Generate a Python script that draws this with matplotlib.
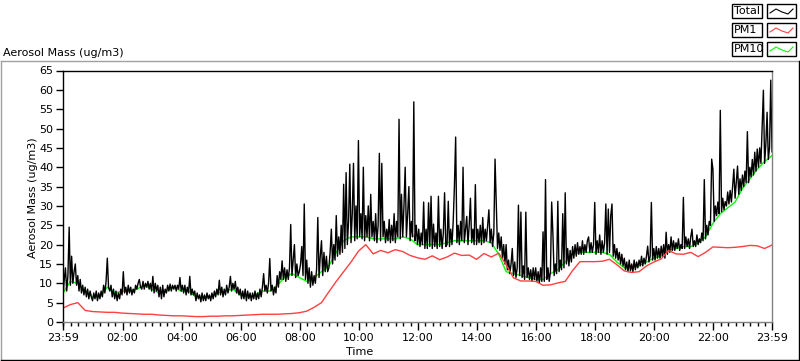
import numpy as np
import matplotlib
matplotlib.use('Agg')
import matplotlib.pyplot as plt
from matplotlib.lines import Line2D
from matplotlib.patches import Rectangle

# Total mass, 2.5 minute samples (one row per hour), hours counted from 23:59
total = [
    6.5, 11, 14, 8, 12, 24.5, 9.5, 17, 10, 13, 15, 9.5, 12, 8, 11, 7.5, 9.5, 7, 9, 6.5, 8.5, 6, 8, 6.5,
    5.5, 7.5, 6, 8, 5.5, 7.5, 6, 8, 6.5, 9.5, 7.5, 10.5, 16.5, 9, 8, 9.5, 6.5, 8.5, 6, 8, 5.5, 7.5, 6, 8.5,
    7, 13, 7.5, 9, 7, 9.5, 7.5, 9, 7, 8.5, 7.5, 9.5, 8.5, 10, 11, 9, 8.5, 10.5, 8.5, 10, 9, 10.5, 8.5, 10,
    8, 11.8, 7.5, 10, 8, 9.5, 6.5, 9, 6, 9.5, 6.5, 8.5, 7.5, 9.5, 8, 9.8, 8, 9.5, 8.5, 9.5, 8, 9.5, 8.5, 11.5,
    8, 9.5, 7.5, 9.5, 7, 9, 7.5, 11.8, 7, 8.5, 7, 8, 5.5, 7.5, 6, 7, 5.2, 7.5, 5.5, 7, 5.5, 7.5, 6, 7,
    5.5, 7.5, 6, 8, 6.5, 8.5, 7, 10.8, 7, 9, 6.5, 8.5, 7, 9.5, 7.5, 9, 11.8, 8, 10, 8.5, 10.5, 7.5, 9, 7,
    8.5, 6, 8, 6, 8.5, 5.5, 8, 6, 7.5, 5.5, 7.5, 6, 8, 5.8, 7.5, 6, 8.5, 6.5, 9, 12.5, 8, 9.5, 7.5, 10,
    16.4, 8, 9.5, 7, 9, 7.5, 12, 9, 13, 11, 15.8, 11, 14, 10.5, 13.5, 11, 14, 25.2, 12, 16, 20, 11.5, 15, 12,
    13, 15, 19.5, 12, 30.5, 11, 16, 10, 14, 9, 13, 9.5, 12, 10, 13.5, 27, 11.5, 17, 21, 12, 18, 13, 17, 13,
    14, 18, 24, 15, 20, 16, 27.5, 17, 22, 17.5, 25, 18, 35.6, 19, 38.6, 20, 26, 40.8, 20.5, 28, 41, 21, 30, 21.5,
    46.9, 22, 28, 21.5, 40, 21, 27.5, 22, 30, 21, 33, 22, 26, 21, 28, 20.5, 25, 43.6, 21, 41, 22, 26, 20.5, 24,
    21, 26.5, 20.5, 25, 21, 28, 20.5, 26, 22, 52.4, 21.5, 33, 22, 30, 40, 22, 28, 35, 21, 26, 22, 56.9, 21, 25,
    20, 24, 19.5, 23, 20, 31, 19, 24, 19, 30.8, 19.5, 32.5, 19, 25.3, 19.5, 23, 19, 32.5, 19.5, 24, 19, 23, 33.4, 19.5,
    20, 31.2, 19.5, 24, 20, 26, 35.2, 47.8, 20.5, 25, 20, 26, 21, 40, 20.5, 24, 27.3, 20, 25, 32, 20.5, 24, 20, 35.5,
    20, 24, 20.5, 25, 20, 27, 20.5, 24, 21, 25, 29, 20.5, 24, 19.5, 23, 42.1, 30.9, 19, 23, 18.5, 22, 16.5, 20, 15,
    20, 13.5, 16, 12.5, 15, 19, 12, 15.5, 11.5, 14, 30.2, 12, 28.4, 11.5, 14.5, 11, 28.4, 11.5, 14, 11, 13.5, 10.5, 14, 11,
    14, 10.5, 13, 10, 14, 10.5, 23.3, 10.5, 36.8, 11, 14, 10.5, 13, 31, 22.8, 12, 15, 12.5, 31.2, 13, 16, 13.5, 28, 14,
    33.4, 15, 19, 14.5, 18.5, 15.5, 19.5, 16.5, 20, 17, 20.5, 17.5, 19.5, 17.5, 21, 17.5, 20, 18, 21, 22, 18, 20.5, 18, 20,
    30.9, 17.5, 21, 18, 22.5, 17.5, 21, 18, 20.5, 30.5, 17.5, 29.2, 18, 27.5, 30.5, 17, 20, 16.5, 19, 16, 18, 15, 17.5, 14.5,
    16.5, 13.5, 15.5, 13, 16, 13.2, 15, 13, 16, 13.5, 15.5, 14, 16, 14.5, 17, 14.5, 16.5, 15, 17, 19.6, 15.5, 17, 30.9, 16,
    19, 16, 19.5, 16.5, 19, 16.5, 19.6, 17, 20, 16.5, 23.2, 17.5, 20, 18, 22, 18.5, 21, 18.5, 20.5, 19, 21.5, 18.5, 20, 19,
    32.2, 19, 22, 19.5, 21.5, 19, 22, 24, 19.5, 21, 19.5, 22.5, 20, 21.5, 20.5, 23, 21, 36.8, 21.5, 25, 22.5, 26, 25, 42.1,
    39.5, 26, 30, 27.5, 31, 28, 54.7, 28.5, 32, 29, 31.1, 30, 33.6, 30.5, 34, 31, 35, 39.5, 32, 36, 40.3, 33, 37, 34,
    38, 35, 39, 36, 49.2, 36, 40, 37.5, 42, 38, 43.9, 39, 44.7, 40, 45, 41, 50.8, 59.9, 41, 46, 54.2, 42, 45, 62.5,
    44,
]

# PM10 and PM1, 15 minute samples (one row per hour)
pm10 = [
    7.5, 10.5, 10, 8,
    6.5, 6.5, 9, 7.5,
    8, 8, 8.5, 9.5,
    8.5, 7.5, 8, 9,
    8, 8, 6.5, 6.5,
    6.5, 7.5, 8, 8.5,
    7, 6.5, 7, 8,
    8, 9.5, 11.5, 12.5,
    11.5, 10.5, 11.5, 13,
    14.5, 18, 21, 22,
    22, 22, 21.5, 21.5,
    21.5, 21.5, 22, 21.5,
    20, 20, 20, 20,
    20.5, 21, 21, 21,
    21, 21, 20.5, 17.5,
    13, 12.5, 12, 11.5,
    11, 11, 12.5, 13.5,
    15.5, 17.5, 18, 18,
    18, 18, 17.5, 15.5,
    14, 14, 14.5, 15.5,
    16.5, 17, 18.5, 19,
    19.5, 19.5, 20.5, 22,
    25.5, 28, 29.5, 31,
    34.5, 37, 39.5, 41.5,
    43,
]

pm1 = [
    3.6, 4.5, 5.0, 3.0,
    2.7, 2.6, 2.5, 2.5,
    2.3, 2.2, 2.1, 2.0,
    2.0, 1.8, 1.7, 1.6,
    1.6, 1.5, 1.4, 1.4,
    1.5, 1.5, 1.6, 1.6,
    1.7, 1.8, 1.9, 2.0,
    2.0, 2.0, 2.1, 2.2,
    2.4, 2.8, 3.8, 5.0,
    7.8, 10.5, 13.0, 15.5,
    18.3, 20.0, 17.6, 18.5,
    17.9, 18.7, 18.2, 17.2,
    16.6, 16.2, 17.1, 16.1,
    16.8, 17.8, 17.2, 17.3,
    16.2, 17.7, 16.8, 17.8,
    14.8, 11.4, 10.6, 10.6,
    10.5, 9.5, 9.6, 10.1,
    10.5, 13.3, 15.6, 15.6,
    15.6, 15.7, 16.2, 14.8,
    13.2, 12.8, 13.0, 14.5,
    15.5, 16.3, 18.5, 17.6,
    17.5, 18.0, 16.9, 18.0,
    19.4, 19.3, 19.2, 19.3,
    19.5, 19.8, 19.7, 19.0,
    19.9,
]

tick_labels = ['23:59', '02:00', '04:00', '06:00', '08:00', '10:00', '12:00',
               '14:00', '16:00', '18:00', '20:00', '22:00', '23:59']

W, H = 800, 361
fig = plt.figure(figsize=(W / 100, H / 100), dpi=100)
plt.rcParams['font.family'] = ['DejaVu Sans']

def fx(px):
    return px / W

def fy(py):
    return 1 - py / H

ax = fig.add_axes([fx(63), fy(322), fx(772) - fx(63), fy(70.5) - fy(322)])

t_total = np.arange(len(total)) / 24.0
t_15 = np.arange(len(pm10)) / 4.0

ax.plot(t_15, pm10, color='#00ff00', lw=1.0)
ax.plot(t_total, total, color='black', lw=1.0)
ax.plot(t_15, pm1, color='#ff4040', lw=1.0)

ax.set_xlim(0, 24)
ax.set_ylim(0, 65)
ax.set_yticks(range(0, 70, 5))
major = [0] + [h + 1 / 60 for h in range(2, 24, 2)] + [24]
ax.set_xticks(major)
ax.set_xticklabels(tick_labels)
ax.set_xticks([1 / 60 + k * 0.25 for k in range(96)], minor=True)

for side in ['top', 'left']:
    ax.spines[side].set_color('black')
for side in ['bottom', 'right']:
    ax.spines[side].set_color('#808080')
for s in ax.spines.values():
    s.set_linewidth(1.0)

ax.tick_params(axis='y', direction='out', length=5, width=1, labelsize=8, pad=2)
ax.tick_params(axis='x', which='major', direction='out', length=6, width=1, labelsize=8, pad=2)
ax.tick_params(axis='x', which='minor', direction='out', length=3, width=1)

fig.text(fx(33), fy(198), 'Aerosol Mass (ug/m3)', rotation=90, ha='center', va='center', fontsize=8)
fig.text(fx(360), fy(352), 'Time', ha='center', va='center', fontsize=8)
fig.text(fx(3), fy(56), 'Aerosol Mass (ug/m3)', ha='left', va='baseline', fontsize=8)

# outer sunken frame
fig.add_artist(Line2D([fx(0.5), fx(799)], [fy(61), fy(61)], color='#a0a0a0', lw=1))
fig.add_artist(Line2D([fx(0.5), fx(0.5)], [fy(61), fy(361)], color='#a0a0a0', lw=1))
fig.add_artist(Line2D([fx(799), fx(799)], [fy(61), fy(360)], color='black', lw=1))
fig.add_artist(Line2D([fx(0.5), fx(799)], [fy(360), fy(360)], color='black', lw=1))

# legend boxes
rows = [('Total', 'black', 4), ('PM1', '#ff4040', 23), ('PM10', '#00ff00', 42)]
for name, col, top in rows:
    fig.add_artist(Rectangle((fx(732), fy(top + 14)), fx(762) - fx(732), fy(top) - fy(top + 14),
                             fill=True, facecolor='white', edgecolor='black', lw=1))
    fig.add_artist(Rectangle((fx(767), fy(top + 14)), fx(796) - fx(767), fy(top) - fy(top + 14),
                             fill=True, facecolor='white', edgecolor='black', lw=1))
    fig.text(fx(733.5), fy(top + 7), name, ha='left', va='center', fontsize=8)
    zx = [770, 776, 782, 788, 793]
    zy = [top + 9, top + 5, top + 8, top + 10, top + 5]
    fig.add_artist(Line2D([fx(v) for v in zx], [fy(v) for v in zy], color=col, lw=0.8))

fig.savefig('out.png', dpi=100)
